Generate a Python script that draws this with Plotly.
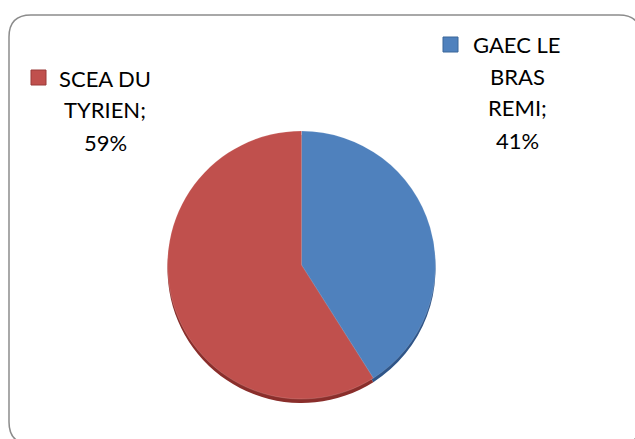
import plotly.graph_objects as go

labels = ["GAEC LE BRAS REMI", "SCEA DU TYRIEN"]
values = [41, 59]
colors = ["#4F81BD", "#C0504D"]
edge_colors = ["#2F5588", "#8A2E2B"]
label_lines = {
    "GAEC LE BRAS REMI": ["GAEC LE", "BRAS", "REMI;", "41%"],
    "SCEA DU TYRIEN": ["SCEA DU", "TYRIEN;", "59%"],
}

W, H = 635, 439
cx, cy, r = 301.5, 265, 134

def px_x(x):
    return x / W

def px_y(y):
    return 1 - y / H

fig = go.Figure()
# 3D edge (shadow) pie
fig.add_trace(go.Pie(
    labels=labels, values=values, sort=False, direction="clockwise", rotation=0,
    marker=dict(colors=edge_colors, line=dict(width=0)),
    textinfo="none", hoverinfo="skip", showlegend=False,
    domain=dict(x=[px_x(cx - r), px_x(cx + r)], y=[px_y(cy + r + 4), px_y(cy - r + 4)]),
))
fig.add_trace(go.Pie(
    labels=labels, values=values, sort=False, direction="clockwise", rotation=0,
    marker=dict(colors=colors, line=dict(width=0.5, color="rgba(255,255,255,0.3)")),
    textinfo="none", showlegend=False,
    domain=dict(x=[px_x(cx - r), px_x(cx + r)], y=[px_y(cy + r), px_y(cy - r)]),
))

font = dict(family="Lato, Noto Sans, sans-serif", size=22, color="#000000")
annotations = []
# right label (GAEC)
for i, t in enumerate(label_lines[labels[0]]):
    annotations.append(dict(text=t, x=px_x(517), y=px_y(44 + 32 * i), xref="paper", yref="paper",
                            xanchor="center", yanchor="middle", showarrow=False, font=font))
# left label (SCEA)
for i, t in enumerate(label_lines[labels[1]]):
    annotations.append(dict(text=t, x=px_x(105), y=px_y(78 + 32 * i), xref="paper", yref="paper",
                            xanchor="center", yanchor="middle", showarrow=False, font=font))

shapes = []
# legend keys
shapes.append(dict(type="rect", xref="paper", yref="paper",
                   x0=px_x(443), x1=px_x(458), y0=px_y(52), y1=px_y(37),
                   fillcolor=colors[0], line=dict(color="#3A6699", width=1)))
shapes.append(dict(type="rect", xref="paper", yref="paper",
                   x0=px_x(31), x1=px_x(46), y0=px_y(85), y1=px_y(70),
                   fillcolor=colors[1], line=dict(color="#9A3B38", width=1)))

# rounded chart border
L, T, R, B, rr = 9, 15, 641, 444, 22
def P(x, y):
    return f"{px_x(x):.5f},{px_y(y):.5f}"
path = (f"M {P(L + rr, T)} L {P(R - rr, T)} Q {P(R, T)} {P(R, T + rr)} "
        f"L {P(R, B - rr)} Q {P(R, B)} {P(R - rr, B)} L {P(L + rr, B)} "
        f"Q {P(L, B)} {P(L, B - rr)} L {P(L, T + rr)} Q {P(L, T)} {P(L + rr, T)} Z")
shapes.append(dict(type="path", xref="paper", yref="paper", path=path,
                   line=dict(color="#8C8C8C", width=1.5), layer="below"))

fig.update_layout(
    width=W, height=H,
    margin=dict(l=0, r=0, t=0, b=0),
    paper_bgcolor="white", plot_bgcolor="white",
    annotations=annotations, shapes=shapes,
    showlegend=False,
)
fig.write_html("out.html", config={"displayModeBar": False},
               post_script="document.body.style.margin='0';document.body.style.overflow='hidden';")
